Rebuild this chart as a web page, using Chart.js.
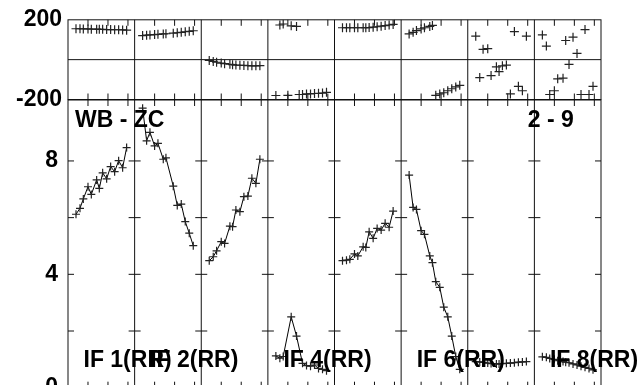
<!DOCTYPE html>
<html>
<head>
<meta charset="utf-8">
<script src="https://cdn.jsdelivr.net/npm/chart.js@4"></script>
<style>
  html, body { margin: 0; padding: 0; background: #fff; overflow: hidden; }
  #wrap { position: relative; width: 639px; height: 385px; overflow: hidden; }
  canvas { position: absolute; left: 0; top: 0; }
</style>
</head>
<body>
<div id="wrap">
  <canvas id="ampChart" width="639" height="420"></canvas>
  <canvas id="phaseChart" width="639" height="420"></canvas>
</div>
<script>
// sample times, as a fraction of one IF panel
const times = [0.12, 0.18, 0.23, 0.30, 0.35, 0.43, 0.47, 0.52, 0.58, 0.64, 0.70, 0.76, 0.82, 0.88];

// amplitude per IF
const amp1 = [6.12, 6.33, 6.66, 7.09, 6.82, 7.33, 7.03, 7.58, 7.37, 7.80, 7.62, 8.01, 7.76, 8.47];
const amp2 = [9.86, 8.71, 9.01, 8.53, 8.62, 8.06, 8.11, null, 7.11, 6.43, 6.48, 5.86, 5.45, 5.01];
const amp3 = [4.48, 4.62, 4.83, 5.15, 5.09, 5.70, 5.68, 6.27, 6.21, 6.74, 6.76, 7.39, 7.21, 8.06];
const amp4 = [1.12, 1.04, 1.10, null, 2.50, 1.82, null, 0.86, 0.78, 0.76, 0.80, 0.68, 0.65, 0.60];
const amp5 = [4.48, 4.50, 4.53, 4.72, 4.65, 4.97, 4.95, 5.50, 5.27, 5.62, 5.56, 5.80, 5.66, 6.23];
const amp6 = [7.50, 6.36, 6.29, 5.54, 5.41, 4.65, 4.41, 3.74, 3.54, 2.84, 2.50, 1.82, 1.10, 0.65];
const amp7 = [0.92, 0.91, 0.89, 0.87, 0.85, 0.84, 0.84, 0.85, 0.86, 0.87, 0.88, 0.90, 0.91, 0.92];
const amp8 = [1.09, 1.07, 1.03, 1.00, 0.95, 0.92, 0.90, 0.88, 0.84, 0.80, 0.76, 0.72, 0.68, 0.63];

// phase (degrees) per IF
const phase1 = [155, 155, 154, 154, 153, 153, 152, 152, 151, 151, 150, 150, 149, 148];
const phase2 = [121, 123, 124, 126, 127, 129, 130, null, 133, 135, 137, 140, 142, 145];
const phase3 = [-4, -9, -13, -17, -20, -23, -25, -27, -28, -29, -30, -31, -31, -30];
const phase4 = [-180, 174, 179, -179, 170, 167, -175, -175, -172, -172, -170, -169, -168, -164];
const phase5 = [160, 160, 160, 160, 160, 160, 160, 161, 163, 165, 168, 171, 174, 177];
const phase6 = [129, 137, 146, 154, 160, 167, 172, -179, -172, -166, -156, -146, -137, -129];
const phase7 = [118, -90, 52, 55, -80, -36, -60, -31, -27, -172, 141, -134, -156, 118];
const phase8 = [124, 68, -175, -156, -96, -93, 96, -24, 113, 31, -175, 151, -175, -134];

const ifLabels = ['IF 1(RR)', 'IF 2(RR)', null, 'IF 4(RR)', null, 'IF 6(RR)', null, 'IF 8(RR)'];
const timeTicks = [0.3, 0.6, 0.9];
const ampTicks = [0, 2, 4, 6, 8];
const ampLabels = [0, 4, 8];
const phaseTicks = [-200, 200];

const FONT = '"Liberation Sans", Arial, sans-serif';
const nIF = 8;

const framePlugin = (yTicks, zeroLine) => ({
    id: 'frame',
    beforeDatasetsDraw(chart) {
        const { ctx, chartArea: a, scales: { x, y } } = chart;
        ctx.save();
        ctx.strokeStyle = '#111';
        ctx.lineWidth = 1;
        ctx.strokeRect(a.left, a.top, a.right - a.left, a.bottom - a.top);
        ctx.beginPath();
        for (let c = 1; c < nIF; c++) {
            const px = x.getPixelForValue(c);
            ctx.moveTo(px, a.top);
            ctx.lineTo(px, a.bottom);
        }
        for (let c = 0; c < nIF; c++) {
            for (const f of timeTicks) {
                const px = x.getPixelForValue(c + f);
                ctx.moveTo(px, a.top);
                ctx.lineTo(px, a.top + 6);
                ctx.moveTo(px, a.bottom);
                ctx.lineTo(px, a.bottom - 6);
            }
        }
        for (const v of yTicks) {
            const py = y.getPixelForValue(v);
            ctx.moveTo(a.left, py);
            ctx.lineTo(a.left + 6, py);
            ctx.moveTo(a.right, py);
            ctx.lineTo(a.right - 6, py);
            for (let c = 1; c < nIF; c++) {
                const px = x.getPixelForValue(c);
                ctx.moveTo(px - 6, py);
                ctx.lineTo(px + 6, py);
            }
        }
        if (zeroLine) {
            const py = y.getPixelForValue(0);
            ctx.moveTo(a.left, py);
            ctx.lineTo(a.right, py);
        }
        ctx.stroke();
        ctx.restore();
    }
});

const labelPlugin = {
    id: 'labels',
    afterDatasetsDraw(chart) {
        const { ctx, chartArea: a, scales: { x } } = chart;
        ctx.save();
        ctx.fillStyle = '#000';
        ctx.font = 'bold 23px ' + FONT;
        ctx.textAlign = 'left';
        ctx.textBaseline = 'alphabetic';
        ctx.fillText('WB - ZC', a.left + 7, a.top + 27);
        ctx.fillText('2 - 9', x.getPixelForValue(6.9), a.top + 27);
        ifLabels.forEach((txt, c) => {
            if (txt) ctx.fillText(txt, x.getPixelForValue(c) + 15.5, a.top + 266.5);
        });
        ctx.restore();
    }
};

const makeSets = (series, line) => series.map((vals, c) => ({
    data: times.map((t, i) => ({ x: c + t, y: vals[i] })),
    showLine: line,
    spanGaps: true,
    borderColor: '#000',
    borderWidth: 1,
    pointStyle: 'cross',
    pointRadius: line ? 4 : 4.5,
    pointHoverRadius: 4,
    pointBorderColor: '#222',
    pointBorderWidth: 1.2
}));

const yAxis = (min, max, ticks, labels, pad) => ({
    min, max,
    position: 'left',
    afterFit: (s) => { s.width = 68; },
    afterBuildTicks: (s) => { s.ticks = ticks.map(v => ({ value: v })); },
    grid: { display: false, drawTicks: false },
    border: { display: false },
    ticks: {
        padding: pad,
        color: '#000',
        font: { family: FONT, size: 23, weight: 'bold' },
        callback: (v) => labels.includes(v) ? String(v) : ''
    }
});

const baseOptions = (padding, y) => ({
    responsive: false,
    animation: false,
    devicePixelRatio: 1,
    layout: { padding },
    plugins: { legend: { display: false }, tooltip: { enabled: false } },
    scales: {
        x: { type: 'linear', min: 0, max: nIF, display: false },
        y
    }
});

new Chart(document.getElementById('ampChart'), {
    type: 'scatter',
    data: { datasets: makeSets([amp1, amp2, amp3, amp4, amp5, amp6, amp7, amp8], true) },
    options: baseOptions({ left: 0, right: 38, top: 100, bottom: 32.3 },
        yAxis(0, 10.15, ampTicks, ampLabels, 10)),
    plugins: [framePlugin([2, 4, 6, 8], false), labelPlugin]
});

new Chart(document.getElementById('phaseChart'), {
    type: 'scatter',
    data: { datasets: makeSets([phase1, phase2, phase3, phase4, phase5, phase6, phase7, phase8], false) },
    options: baseOptions({ left: 0, right: 38, top: 18.3, bottom: 320.5 },
        yAxis(-200, 200, phaseTicks, phaseTicks, 6)),
    plugins: [framePlugin([], true)]
});
</script>
</body>
</html>
